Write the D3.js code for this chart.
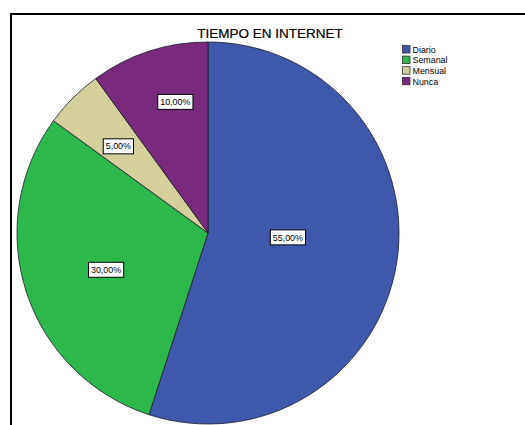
<!DOCTYPE html>
<html><head><meta charset="utf-8">
<script src="https://cdn.jsdelivr.net/npm/d3@7"></script>
<style>body{margin:0;background:#fff}svg{display:block}</style>
</head><body>
<svg id="c" width="525" height="425"></svg>
<script>
const title = "TIEMPO EN INTERNET";
const categories = ["Diario", "Semanal", "Mensual", "Nunca"];
const values = [55, 30, 5, 10];
const colors = ["#3E58AC", "#2DB84B", "#D5CF9C", "#7A2A7C"];

const svg = d3.select("#c");
// frame
svg.append("rect").attr("x", 11).attr("y", 14).attr("width", 600).attr("height", 600)
  .attr("fill", "#fff").attr("stroke", "#000").attr("stroke-width", 2);

svg.append("text").attr("x", 270).attr("y", 38).attr("text-anchor", "middle")
  .attr("font-family", "Liberation Sans, Arial, sans-serif").attr("font-size", 13.5)
  .attr("fill", "#000").attr("stroke", "#000").attr("stroke-width", 0.2).text(title);

const cx = 208, cy = 233, R = 191;
const pie = d3.pie().sort(null).value(d => d)(values);
const arc = d3.arc().innerRadius(0).outerRadius(R);
const g = svg.append("g").attr("transform", `translate(${cx},${cy})`);
g.selectAll("path").data(pie).join("path")
  .attr("d", arc).attr("fill", (d, i) => colors[i])
  .attr("stroke", "#1a1a2a").attr("stroke-width", 0.8);

// label placement tweaks (layout only), mimicking the original renderer
const nudge = [[8, -7], [2, 3], [0, 3], [6, -12]];
const fmt = v => d3.format(".2f")(v).replace(".", ",") + "%";
pie.forEach((d, i) => {
  const half = (d.endAngle - d.startAngle) / 2;
  const mid = (d.startAngle + d.endAngle) / 2;
  const r = 2 * R * Math.sin(half) / (3 * half);
  const x = r * Math.sin(mid) + nudge[i][0], y = -r * Math.cos(mid) + nudge[i][1];
  const lg = g.append("g").attr("transform", `translate(${x},${y})`);
  const t = lg.append("text").attr("text-anchor", "middle").attr("dy", "0.35em")
    .attr("font-family", "Liberation Sans, Arial, sans-serif").attr("font-size", 8.9)
    .attr("fill", "#000").text(fmt(values[i]));
  const bb = t.node().getBBox();
  lg.insert("rect", "text").attr("x", bb.x - 2.5).attr("y", -7.5).attr("width", bb.width + 5)
    .attr("height", 15).attr("fill", "#fff").attr("stroke", "#000").attr("stroke-width", 1);
});

const leg = svg.append("g").attr("transform", "translate(402,45)");
categories.forEach((c, i) => {
  const row = leg.append("g").attr("transform", `translate(0,${i * 10.6})`);
  row.append("rect").attr("x", 0.5).attr("y", 0.5).attr("width", 7.5).attr("height", 7.5)
    .attr("fill", colors[i]).attr("stroke", "#333").attr("stroke-width", 0.8);
  row.append("text").attr("x", 10.5).attr("y", 7.8)
    .attr("font-family", "Liberation Sans, Arial, sans-serif").attr("font-size", 8.9)
    .attr("fill", "#000").text(c);
});
</script>
</body></html>
